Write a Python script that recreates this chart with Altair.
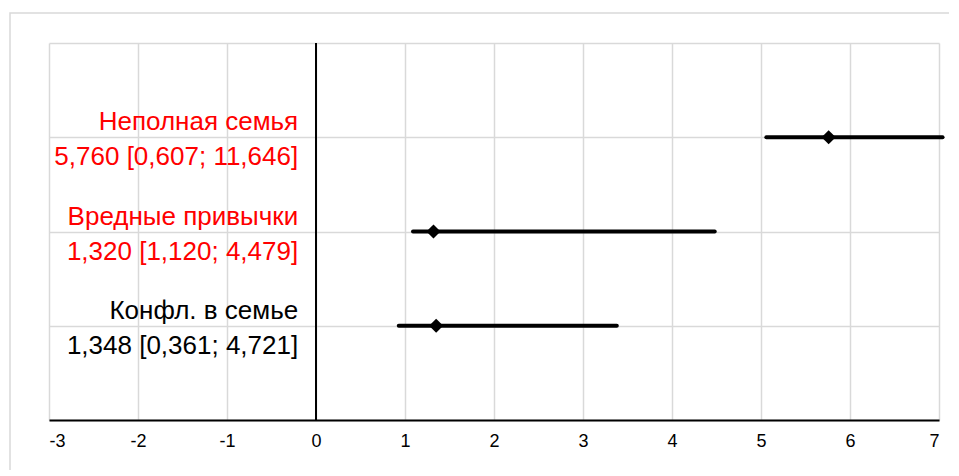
import altair as alt
import pandas as pd

names = ["Неполная семья", "Вредные привычки", "Конфл. в семье"]
ci_texts = ["5,760 [0,607; 11,646]", "1,320 [1,120; 4,479]", "1,348 [0,361; 4,721]"]
point_est = [5.76, 1.32, 1.35]
line_low = [5.06, 1.09, 0.93]
line_high = [7.04, 4.48, 3.38]
row_pos = [3, 2, 1]
label_colors = ["#FF0000", "#FF0000", "#000000"]
x_ticks = list(range(-3, 8))
y_grid = [0, 1, 2, 3, 4]

df = pd.DataFrame({
    "label": [n + "\n" + c for n, c in zip(names, ci_texts)],
    "est": point_est,
    "low": line_low,
    "high": line_high,
    "row": row_pos,
    "color": label_colors,
})

FONT = "Liberation Sans"
xscale = alt.Scale(domain=[-3, 7], nice=False, zero=False)
yscale = alt.Scale(domain=[0, 4], nice=False)

xaxis = alt.Axis(values=x_ticks, grid=True, gridColor="#d9d9d9", gridWidth=1.5,
                 domainColor="#000000", domainWidth=2, ticks=False,
                 labelFontSize=18, labelFont=FONT, labelColor="#000000",
                 labelExpr="'' + datum.value",
                 labelPadding=12, title=None)
yaxis = alt.Axis(values=y_grid, grid=True, gridColor="#d9d9d9", gridWidth=1.5,
                 domain=False, ticks=False, labels=False, title=None)

base = alt.Chart(df)

border = base.mark_rect(fillOpacity=0, stroke="#d9d9d9", strokeWidth=1.5, clip=False).encode(
    x=alt.value(-39), x2=alt.value(901), y=alt.value(-30), y2=alt.value(470)
).transform_filter("datum.row == 1")

bars = base.mark_rule(strokeWidth=4, strokeCap="round", color="#000000", clip=False).encode(
    x=alt.X("low:Q", scale=xscale, axis=xaxis),
    x2="high:Q",
    y=alt.Y("row:Q", scale=yscale, axis=yaxis),
)

zero = base.mark_rule(color="#000000", strokeWidth=2).encode(
    x=alt.datum(0)
).transform_filter("datum.row == 1")

points = base.mark_point(shape="diamond", filled=True, size=200, color="#000000", opacity=1).encode(
    x="est:Q", y="row:Q"
)

labels = base.mark_text(align="right", baseline="middle", fontSize=26, font=FONT,
                        lineBreak="\n", lineHeight=35, dy=-15).encode(
    x=alt.datum(-0.2), y="row:Q", text="label:N",
    color=alt.Color("color:N", scale=None),
)

chart = alt.layer(border, zero, bars, points, labels).properties(
    width=890, height=377,
    padding={"left": 41, "top": 35, "right": 10, "bottom": 50},
    autosize="none",
    background="#ffffff",
).configure_view(stroke=None)

chart.save("out.html", embed_options={"renderer": "svg", "actions": False})
